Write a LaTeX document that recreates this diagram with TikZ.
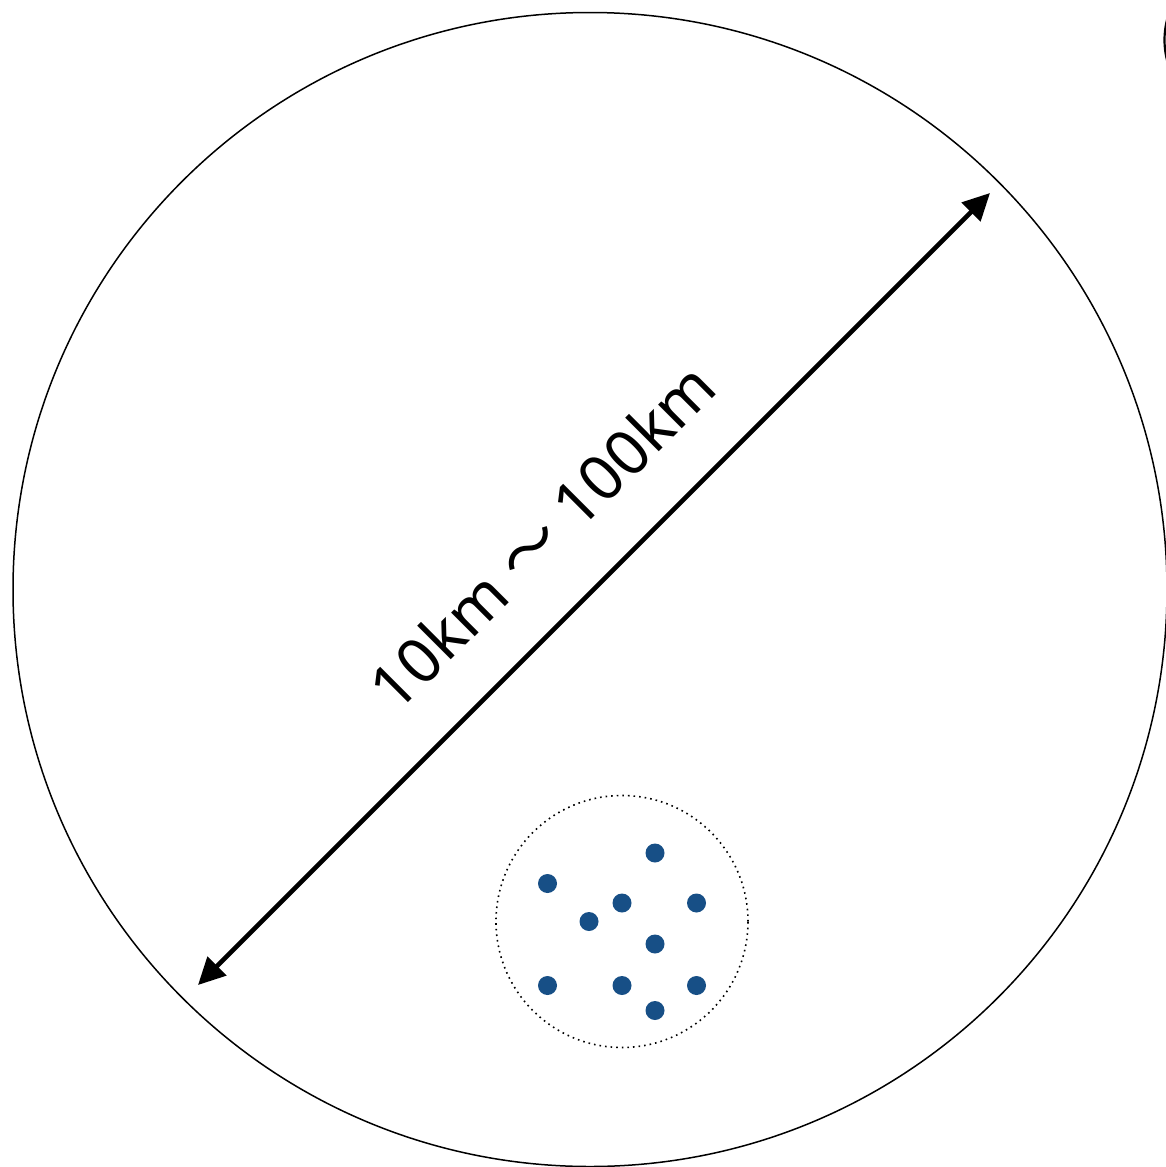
\documentclass[tikz,border=0pt]{standalone}
\usepackage{fontspec}
\setmainfont{Noto Sans}
\newfontfamily\cjkfont{Noto Sans CJK KR}
\usetikzlibrary{arrows.meta}
\definecolor{dotblue}{RGB}{23,79,134}
\tikzset{
  bigcircle/.style={circle, draw=black, line width=1.5pt, minimum size=1154pt, inner sep=0pt},
  edgecircle/.style={circle, draw=black, line width=2.2pt, minimum size=162pt, inner sep=0pt},
  clustercircle/.style={circle, draw=black, line width=1.6pt, dash pattern=on 1.6pt off 4pt, minimum size=252pt, inner sep=0pt},
  station/.style={circle, fill=dotblue, draw=none, minimum size=19pt, inner sep=0pt},
  dimarrow/.style={line width=4.6pt, {Triangle[length=27pt,width=26pt]}-{Triangle[length=27pt,width=26pt]}},
  dimlabel/.style={font=\fontsize{62.5}{75}\selectfont, rotate=45, inner sep=0pt}
}
\begin{document}
\begin{tikzpicture}[x=1pt,y=-1pt]
\useasboundingbox (0,0) rectangle (1166,1167);
\node[bigcircle] (area) at (590,589.5) {};
\node[edgecircle] (nextarea) at (1245.5,40) {};
\coordinate (edgeA) at (198,985);
\coordinate (edgeB) at (990,193);
\draw[dimarrow] (edgeA) -- (edgeB);
\node[dimlabel] (size) at (542,536) {10km {\cjkfont ～} 100km};
\node[clustercircle] (cluster) at (622,921.5) {};
\node[station] (s1) at (655,853) {};
\node[station] (s2) at (547.5,883.5) {};
\node[station] (s3) at (622,903) {};
\node[station] (s4) at (696.5,903) {};
\node[station] (s5) at (589,921.5) {};
\node[station] (s6) at (655,944) {};
\node[station] (s7) at (547.5,985.5) {};
\node[station] (s8) at (622,985.5) {};
\node[station] (s9) at (696.5,985.5) {};
\node[station] (s10) at (655,1010.5) {};
\end{tikzpicture}
\end{document}
